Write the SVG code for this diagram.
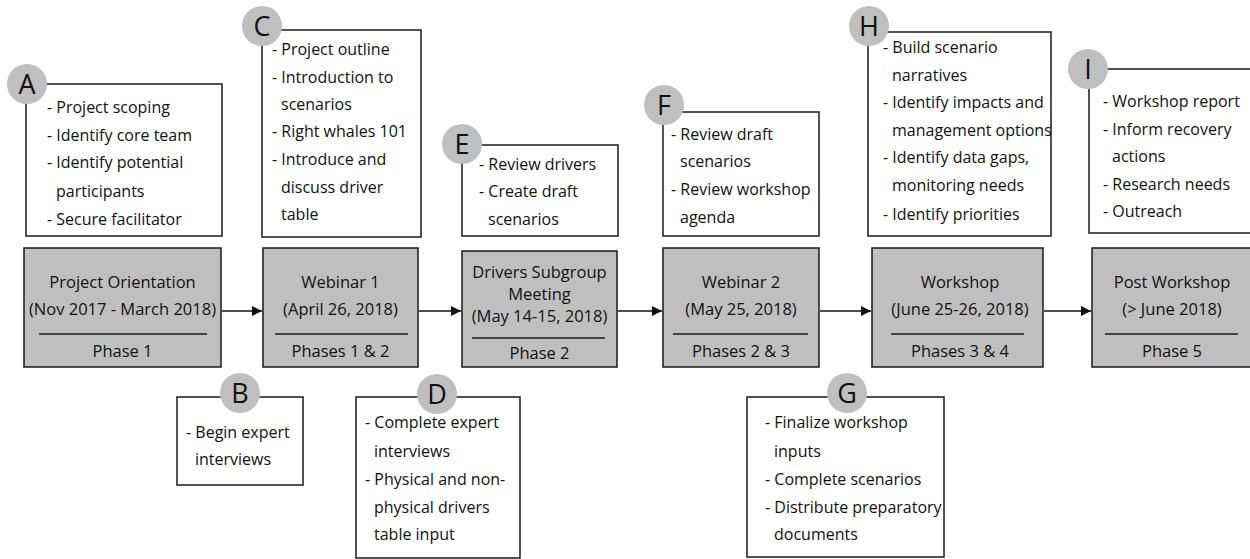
<svg xmlns="http://www.w3.org/2000/svg" width="1250" height="559" viewBox="0 0 1250 559">
<style>
.bg{fill:#ffffff}
.note{fill:#ffffff;stroke:#1a1a1a;stroke-width:1.5}
.phase{fill:#bfbfbf;stroke:#1a1a1a;stroke-width:1.5}
.div{stroke:#1a1a1a;stroke-width:1.5}
.badge{fill:#bfbfbf;stroke:none}
.lt{font-family:"Open Sans","Liberation Sans",sans-serif;font-size:27px;fill:#111;text-anchor:middle}
.t{font-family:"Open Sans","Liberation Sans",sans-serif;font-size:16px;fill:#111}
.p{font-family:"Open Sans","Liberation Sans",sans-serif;font-size:16.5px;fill:#111;text-anchor:middle}
.conn{stroke:#111;stroke-width:1.5;fill:none}
</style>
<defs>
<marker id="ah" markerWidth="10" markerHeight="10" refX="10" refY="5" orient="auto" markerUnits="userSpaceOnUse">
<path d="M0,0 L10,5 L0,10 Z" fill="#111"/>
</marker>
</defs>
<rect class="bg" x="0" y="0" width="1250" height="559"/>

<g id="connectors">
<line class="conn" x1="222" y1="311" x2="262" y2="311" marker-end="url(#ah)"/>
<line class="conn" x1="419" y1="311" x2="461" y2="311" marker-end="url(#ah)"/>
<line class="conn" x1="618" y1="311" x2="662" y2="311" marker-end="url(#ah)"/>
<line class="conn" x1="820" y1="311" x2="871" y2="311" marker-end="url(#ah)"/>
<line class="conn" x1="1044" y1="311" x2="1091" y2="311" marker-end="url(#ah)"/>
</g>

<g id="phase1">
<rect class="phase" x="24" y="248" width="197" height="119"/>
<text class="p" x="122.5" y="288">Project Orientation</text>
<text class="p" x="122.5" y="315">(Nov 2017 - March 2018)</text>
<line class="div" x1="39" y1="334" x2="207" y2="334"/>
<text class="p" x="122.5" y="357">Phase 1</text>
</g>
<g id="phase2">
<rect class="phase" x="263" y="248" width="155" height="119"/>
<text class="p" x="340.5" y="288">Webinar 1</text>
<text class="p" x="340.5" y="315">(April 26, 2018)</text>
<line class="div" x1="275" y1="334" x2="408" y2="334"/>
<text class="p" x="340.5" y="357">Phases 1 &amp; 2</text>
</g>
<g id="phase3">
<rect class="phase" x="462" y="251" width="155" height="116"/>
<text class="p" x="539.5" y="278">Drivers Subgroup</text>
<text class="p" x="539.5" y="300">Meeting</text>
<text class="p" x="539.5" y="322">(May 14-15, 2018)</text>
<line class="div" x1="472" y1="338" x2="605" y2="338"/>
<text class="p" x="539.5" y="359">Phase 2</text>
</g>
<g id="phase4">
<rect class="phase" x="663" y="248" width="156" height="119"/>
<text class="p" x="741" y="288">Webinar 2</text>
<text class="p" x="741" y="315">(May 25, 2018)</text>
<line class="div" x1="673" y1="334" x2="808" y2="334"/>
<text class="p" x="741" y="357">Phases 2 &amp; 3</text>
</g>
<g id="phase5">
<rect class="phase" x="872" y="248" width="171" height="119"/>
<text class="p" x="960" y="288">Workshop</text>
<text class="p" x="960" y="315">(June 25-26, 2018)</text>
<line class="div" x1="891" y1="334" x2="1024" y2="334"/>
<text class="p" x="960" y="357">Phases 3 &amp; 4</text>
</g>
<g id="phase6">
<rect class="phase" x="1092" y="248" width="162" height="119"/>
<text class="p" x="1172" y="288">Post Workshop</text>
<text class="p" x="1172" y="315">(&gt; June 2018)</text>
<line class="div" x1="1105" y1="334" x2="1238" y2="334"/>
<text class="p" x="1172" y="357">Phase 5</text>
</g>

<g id="noteA">
<rect class="note" x="26" y="84" width="196" height="152"/>
<circle class="badge" cx="27" cy="84" r="20"/>
<text class="lt" x="27" y="94">A</text>
<text class="t" x="47" y="113">- Project scoping</text>
<text class="t" x="47" y="141">- Identify core team</text>
<text class="t" x="47" y="168">- Identify potential</text>
<text class="t" x="56" y="197">participants</text>
<text class="t" x="47" y="225">- Secure facilitator</text>
</g>
<g id="noteB">
<rect class="note" x="177" y="397" width="126" height="88"/>
<circle class="badge" cx="240" cy="393" r="20"/>
<text class="lt" x="240" y="403">B</text>
<text class="t" x="186" y="438">- Begin expert</text>
<text class="t" x="195" y="465">interviews</text>
</g>
<g id="noteC">
<rect class="note" x="262" y="30" width="159" height="207"/>
<circle class="badge" cx="262" cy="26" r="20"/>
<text class="lt" x="262" y="36">C</text>
<text class="t" x="272" y="55">- Project outline</text>
<text class="t" x="272" y="83">- Introduction to</text>
<text class="t" x="281" y="110">scenarios</text>
<text class="t" x="272" y="137">- Right whales 101</text>
<text class="t" x="272" y="165">- Introduce and</text>
<text class="t" x="281" y="193">discuss driver</text>
<text class="t" x="281" y="220">table</text>
</g>
<g id="noteD">
<rect class="note" x="356" y="397" width="164" height="161"/>
<circle class="badge" cx="437" cy="394" r="20"/>
<text class="lt" x="437" y="404">D</text>
<text class="t" x="365" y="428">- Complete expert</text>
<text class="t" x="374" y="457">interviews</text>
<text class="t" x="365" y="485">- Physical and non-</text>
<text class="t" x="374" y="513">physical drivers</text>
<text class="t" x="374" y="540">table input</text>
</g>
<g id="noteE">
<rect class="note" x="462" y="145" width="156" height="91"/>
<circle class="badge" cx="462" cy="144" r="20"/>
<text class="lt" x="462" y="154">E</text>
<text class="t" x="479" y="170">- Review drivers</text>
<text class="t" x="479" y="197">- Create draft</text>
<text class="t" x="488" y="225">scenarios</text>
</g>
<g id="noteF">
<rect class="note" x="663" y="112" width="156" height="124"/>
<circle class="badge" cx="664" cy="105" r="20"/>
<text class="lt" x="664" y="115">F</text>
<text class="t" x="671" y="140">- Review draft</text>
<text class="t" x="680" y="167">scenarios</text>
<text class="t" x="671" y="195">- Review workshop</text>
<text class="t" x="680" y="223">agenda</text>
</g>
<g id="noteG">
<rect class="note" x="747" y="397" width="197" height="160"/>
<circle class="badge" cx="847" cy="393" r="20"/>
<text class="lt" x="847" y="403">G</text>
<text class="t" x="765" y="428">- Finalize workshop</text>
<text class="t" x="774" y="457">inputs</text>
<text class="t" x="765" y="485">- Complete scenarios</text>
<text class="t" x="765" y="513">- Distribute preparatory</text>
<text class="t" x="774" y="540">documents</text>
</g>
<g id="noteH">
<rect class="note" x="868" y="32" width="183" height="204"/>
<circle class="badge" cx="869" cy="26" r="20"/>
<text class="lt" x="869" y="36">H</text>
<text class="t" x="883" y="53">- Build scenario</text>
<text class="t" x="892" y="81">narratives</text>
<text class="t" x="883" y="108">- Identify impacts and</text>
<text class="t" x="892" y="136">management options</text>
<text class="t" x="883" y="163">- Identify data gaps,</text>
<text class="t" x="892" y="191">monitoring needs</text>
<text class="t" x="883" y="220">- Identify priorities</text>
</g>
<g id="noteI">
<rect class="note" x="1089" y="69" width="165" height="164"/>
<circle class="badge" cx="1088" cy="69" r="20"/>
<text class="lt" x="1088" y="79">I</text>
<text class="t" x="1103" y="107">- Workshop report</text>
<text class="t" x="1103" y="135">- Inform recovery</text>
<text class="t" x="1112" y="162">actions</text>
<text class="t" x="1103" y="190">- Research needs</text>
<text class="t" x="1103" y="217">- Outreach</text>
</g>
</svg>
